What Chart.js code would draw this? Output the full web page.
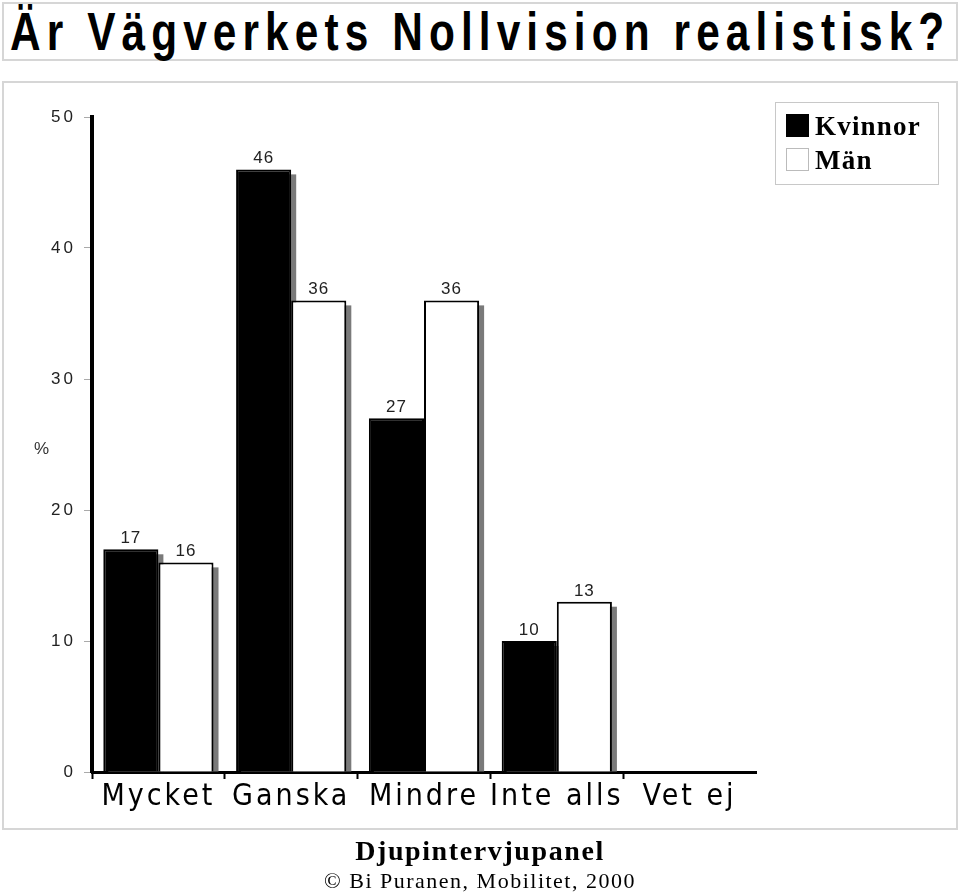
<!DOCTYPE html>
<html>
<head>
<meta charset="utf-8">
<script src="https://cdn.jsdelivr.net/npm/chart.js@4.4.0/dist/chart.umd.min.js"></script>
<style>
  body { margin: 0; background: #fff; }
  #page { position: relative; width: 960px; height: 894px; overflow: hidden; }
  #titleBox { position: absolute; left: 2px; top: 2px; width: 952px; height: 55px; border: 2px solid #d6d6d6; }
  #title { position: absolute; left: 6px; top: -3px; white-space: nowrap; transform-origin: 0 0;
           font: bold 53px "Liberation Sans", sans-serif; color: #000; }
  #chartBox { position: absolute; left: 2px; top: 81px; width: 952px; height: 745px; border: 2px solid #d6d6d6; }
  canvas { position: absolute; left: 0; top: 0; }
  #ylab { position: absolute; left: 34px; top: 439px; font: 17px "Liberation Sans", sans-serif; color: #333; }
  #legend { position: absolute; left: 775px; top: 102px; width: 162px; height: 81px; border: 1px solid #c8c8c8; }
  .item { position: absolute; left: 10px; height: 24px; white-space: nowrap;
          font: bold 27px "Liberation Serif", serif; letter-spacing: 1.2px; line-height: 24px; }
  .sw { display: inline-block; width: 23px; height: 23px; vertical-align: top; margin-right: 6px; box-sizing: border-box; }
  #footer1 { position: absolute; left: 0; width: 960px; top: 835px; text-align: center;
             font: bold 28px "Liberation Serif", serif; letter-spacing: 1.6px; }
  #footer2 { position: absolute; left: 0; width: 960px; top: 868px; text-align: center;
             font: 22px "Liberation Serif", serif; letter-spacing: 1.5px; }
</style>
</head>
<body>
<div id="page">
  <div id="titleBox"><div id="title">Är Vägverkets Nollvision realistisk?</div></div>
  <div id="chartBox"></div>
  <canvas id="chart" width="960" height="894"></canvas>
  <div id="ylab">%</div>
  <div id="legend"></div>
  <div id="footer1">Djupintervjupanel</div>
  <div id="footer2">© Bi Puranen, Mobilitet, 2000</div>
</div>
<script>
// svarsalternativ och andel (%)
const categories = ['Mycket', 'Ganska', 'Mindre', 'Inte alls', 'Vet ej'];
const kvinnor = [17, 46, 27, 10, null];
const man = [16, 36, 36, 13, null];
const yMin = 0;
const yMax = 50;
const yStep = 10;

// titeln: smal stil, utsträckt till boxens bredd
const title = document.getElementById('title');
const squeeze = 0.8;
const natural = title.scrollWidth;
const chars = title.textContent.length;
title.style.letterSpacing = ((940 / squeeze - natural) / chars) + 'px';
title.style.transform = 'scaleX(' + squeeze + ')';

// skugga bakom staplarna
const shadowPlugin = {
  id: 'barShadow',
  beforeDatasetsDraw(chart) {
    const ctx = chart.ctx;
    ctx.save();
    ctx.fillStyle = '#7a7a7a';
    chart.data.datasets.forEach((ds, i) => {
      chart.getDatasetMeta(i).data.forEach((bar, j) => {
        if (ds.data[j] == null) return;
        const p = bar.getProps(['x', 'y', 'base', 'width'], true);
        ctx.fillRect(p.x - p.width / 2 + 5, p.y + 5, p.width, p.base - p.y - 5);
      });
    });
    ctx.restore();
  }
};

// värden ovanför staplarna
const valuePlugin = {
  id: 'values',
  beforeDraw(chart) {
    chart.ctx.letterSpacing = '3px';
  },
  afterDatasetsDraw(chart) {
    const ctx = chart.ctx;
    ctx.save();
    ctx.letterSpacing = '1px';
    ctx.font = '17px "Liberation Sans", sans-serif';
    ctx.fillStyle = '#222';
    ctx.textAlign = 'center';
    ctx.textBaseline = 'alphabetic';
    chart.data.datasets.forEach((ds, i) => {
      chart.getDatasetMeta(i).data.forEach((bar, j) => {
        if (ds.data[j] == null) return;
        ctx.fillText(String(ds.data[j]), bar.x, bar.y - 6);
      });
    });
    ctx.restore();
  }
};

const ctx = document.getElementById('chart').getContext('2d');
const chart = new Chart(ctx, {
  type: 'bar',
  data: {
    labels: categories,
    datasets: [{
      label: 'Kvinnor',
      data: kvinnor,
      backgroundColor: '#000',
      borderColor: '#000',
      borderWidth: 2,
      borderSkipped: 'bottom'
    }, {
      label: 'Män',
      data: man,
      backgroundColor: '#fff',
      borderColor: '#000',
      borderWidth: 2,
      borderSkipped: 'bottom'
    }]
  },
  options: {
    responsive: false,
    animation: false,
    devicePixelRatio: 1,
    layout: { padding: { left: 0, top: 117, right: 204, bottom: 82 } },
    datasets: { bar: { categoryPercentage: 0.83, barPercentage: 1.0 } },
    plugins: {
      legend: { display: false },
      tooltip: { enabled: false }
    },
    scales: {
      x: {
        grid: {
          drawOnChartArea: false, drawTicks: true, tickLength: 7, tickWidth: 2,
          tickColor: c => (c.type === 'tick' ? '#000' : 'rgba(0,0,0,0)')
        },
        border: { color: '#000', width: 3 },
        ticks: {
          autoSkip: false, maxRotation: 0, minRotation: 0, padding: 0,
          color: '#000',
          font: { family: '"DejaVu Sans Condensed", "Liberation Sans"', size: 30 }
        },
        afterFit: s => { s.height = 40; }
      },
      y: {
        min: yMin,
        max: yMax,
        ticks: { stepSize: yStep, padding: 8, color: '#222', font: { family: '"Liberation Sans"', size: 17 } },
        grid: { drawOnChartArea: false, tickLength: 8, tickColor: '#aaa', tickWidth: 1 },
        border: { color: '#000', width: 4 },
        afterFit: s => { s.width = 92; }
      }
    }
  },
  plugins: [shadowPlugin, valuePlugin]
});

// förklaring byggd från dataseten
const legend = document.getElementById('legend');
chart.data.datasets.forEach((ds, i) => {
  const item = document.createElement('div');
  item.className = 'item';
  item.style.top = (11 + i * 34) + 'px';
  const sw = document.createElement('span');
  sw.className = 'sw';
  sw.style.background = ds.backgroundColor;
  sw.style.border = ds.backgroundColor === '#000' ? '1px solid #000' : '1px solid #bbb';
  item.appendChild(sw);
  item.appendChild(document.createTextNode(ds.label));
  legend.appendChild(item);
});
</script>
</body>
</html>
